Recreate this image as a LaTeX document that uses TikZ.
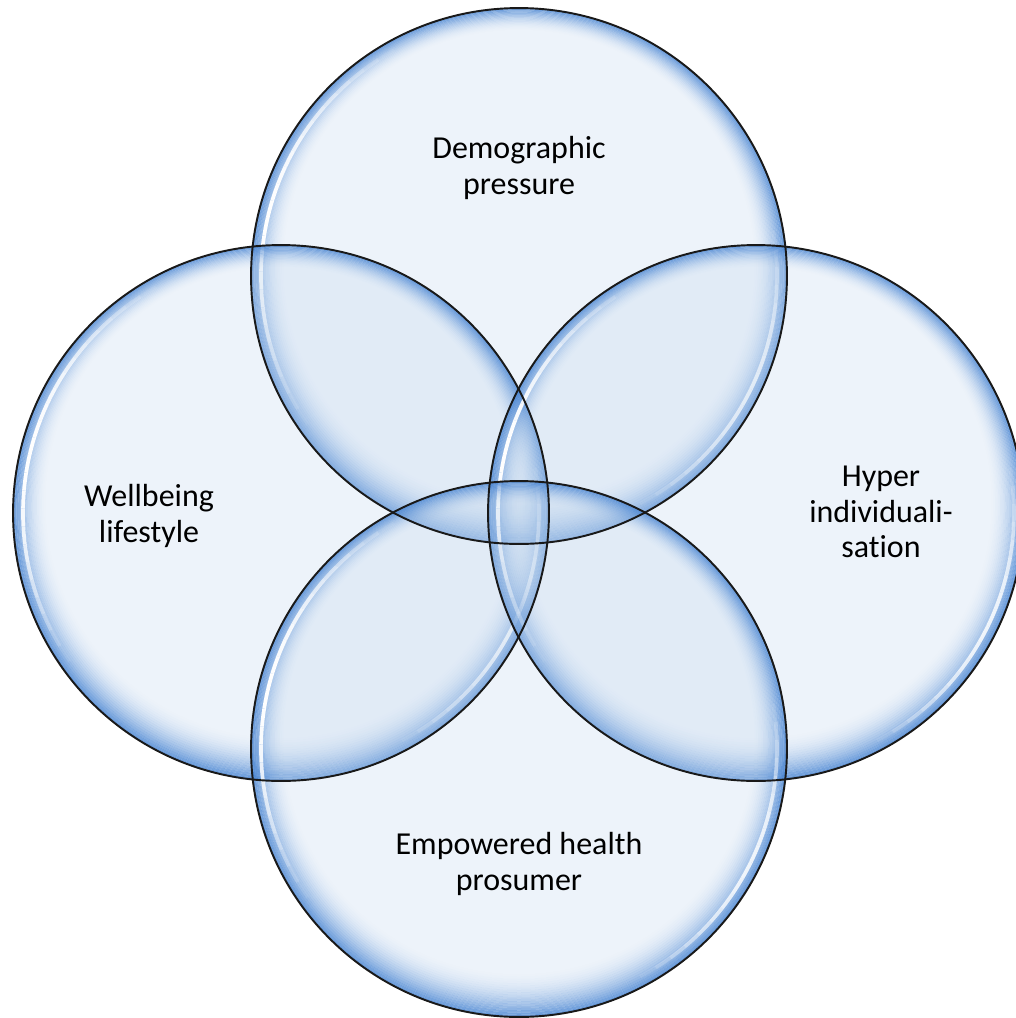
\documentclass[tikz,border=0pt]{standalone}
\usepackage{fontspec}
\setmainfont[Ligatures=NoCommon]{Carlito}
\begin{document}
\begin{tikzpicture}[x=0.02cm,y=-0.02cm]
\definecolor{bubblefill}{HTML}{C4D8EE}
\definecolor{rimblue}{HTML}{3A7BCF}
\tikzset{
  lbl/.style={font=\fontsize{18.2}{20.4}\selectfont, align=center, text=black, inner sep=0pt},
  ring/.style={draw=black!90, line width=1.1pt, circle, minimum size=10.72cm, inner sep=0pt},
  glowfill/.style={fill=bubblefill, fill opacity=0.3},
}
\useasboundingbox (0,0) rectangle (1016,1018);
\def\R{268}
% fills, rim glow, highlights
\foreach \cx/\cy in {519/276, 281/513, 756/513, 519/749} {
  \fill[glowfill] (\cx,\cy) circle (\R);
  \foreach \k in {0,...,19} {
    \pgfmathsetmacro\op{0.74*(1-\k/20)^2}
    \fill[rimblue, fill opacity=\op, even odd rule]
      ({\cx},{\cy-\k*0.55}) circle ({\R-\k*1.7})
      ({\cx},{\cy-(\k+1)*0.55}) circle ({\R-(\k+1)*1.7});
  }
  \foreach \a in {145,149,...,237} {
    \pgfmathsetmacro\op{sin(1.875*(\a+2-145))}
    \draw[white, line width=2.1pt, draw opacity=\op]
      ([shift={(\a:258)}]\cx,\cy) arc[start angle=\a, end angle=\a+4, radius=258];
  }
  \foreach \a in {-10,-6,...,58} {
    \pgfmathsetmacro\op{0.85*sin(2.5*(\a+2+10))}
    \draw[white, line width=2.1pt, draw opacity=\op]
      ([shift={(\a:258)}]\cx,\cy) arc[start angle=\a, end angle=\a+4, radius=258];
  }
}
% outlines
\node[ring] (top) at (519,276) {};
\node[ring] (left) at (281,513) {};
\node[ring] (right) at (756,513) {};
\node[ring] (bottom) at (519,749) {};
% labels
\node[lbl] (tdem) at (519,168) {Demographic\\pressure};
\node[lbl] (twell) at (149,516) {Wellbeing\\lifestyle};
\node[lbl] (thyp) at (881,512) {Hyper\\individuali-\\sation};
\node[lbl] (temp) at (519,864) {Empowered health\\prosumer};
\end{tikzpicture}
\end{document}
